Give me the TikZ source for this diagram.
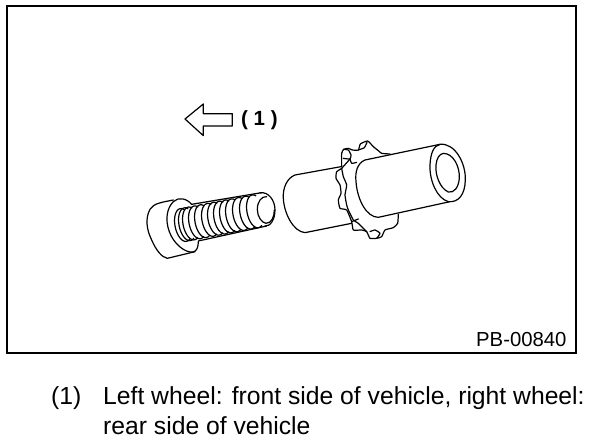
\documentclass[tikz,border=0pt]{standalone}
\usepackage{fontspec}
\setmainfont{Liberation Sans}
\tikzset{
  ink/.style={line width=1.2pt,line join=round,line cap=round,black},
  frame/.style={line width=2pt,black},
  lbl/.style={inner sep=0pt,anchor=base west},
  small/.style={lbl,font=\fontsize{20.3}{24}\selectfont},
  big/.style={lbl,font=\fontsize{24.7}{28}\selectfont},
  zoomA/.style={shift={(130,170)},x=0.3333pt,y=-0.3333pt},
  zoomB/.style={shift={(270,130)},x=0.3333pt,y=-0.3333pt},
  zoomC/.style={shift={(170,95)},x=0.3333pt,y=-0.3333pt},
  zoomG/.style={shift={(325,135)},x=0.3333pt,y=-0.3333pt}
}
\begin{document}
\begin{tikzpicture}[x=1pt,y=-1pt]
\useasboundingbox (0,0) rectangle (608,444);
\fill[white] (0,0) rectangle (608,444);
\draw[frame] (7,6) rectangle (576,353);
% arrow
\begin{scope}[zoomC]
\draw[ink] (187,56) -- (100,56) -- (100,27) -- (45,72) -- (100,122) -- (100,93) -- (187,93) -- cycle;
\end{scope}
\node[lbl,font=\fontsize{20.5}{24}\selectfont\bfseries] (arrowlabel) at (241,125) {( 1 )};
% bolt
\begin{scope}[zoomA]
\draw[ink] (130,90) .. controls (90,98) and (72,100) .. (60,118) .. controls (45,145) and (50,180) .. (65,210) .. controls (78,240) and (95,262) .. (112,265) -- (195,245);
\draw[ink] (185,103) .. controls (170,85) and (145,80) .. (130,95) .. controls (110,115) and (105,150) .. (118,185) .. controls (130,220) and (165,250) .. (190,246) .. controls (200,243) and (205,232) .. (205,215);
\draw[ink] (185,103) -- (395,68);
\draw[ink] (205,213) -- (410,168);
\foreach \l in {135,147,159,177,195,216,234,252,270,288,309,330,351}{
  \draw[ink,shift={(\l+25,{165-(\l-135)*0.19})},rotate=11]
    plot[domain=65:295,samples=30,smooth] ({25*cos(\x)},{50*sin(\x)});
}
\draw[ink] (390,68) .. controls (415,65) and (435,90) .. (435,120) .. controls (435,150) and (420,170) .. (405,168);
\draw[ink] (410,80) .. controls (395,78) and (382,95) .. (382,118) .. controls (382,140) and (395,158) .. (408,160) .. controls (425,160) and (433,140) .. (433,120);
\end{scope}
% sleeve
\begin{scope}[zoomB]
\draw[ink] (213,110) -- (75,135) .. controls (50,145) and (38,175) .. (40,205) .. controls (42,250) and (70,305) .. (105,308) -- (245,280);
\draw[ink] (510,43) -- (285,90) .. controls (262,100) and (255,125) .. (258,155) .. controls (262,210) and (290,262) .. (325,262) -- (540,215);
\draw[ink] (510,43) .. controls (555,38) and (588,100) .. (586,150) .. controls (585,195) and (565,218) .. (535,215) .. controls (500,205) and (478,150) .. (480,105) .. controls (482,70) and (490,48) .. (510,43) -- cycle;
\draw[ink] (520,70) .. controls (550,70) and (570,110) .. (568,145) .. controls (566,172) and (552,190) .. (535,186) .. controls (510,175) and (495,135) .. (498,105) .. controls (500,85) and (508,72) .. (520,70) -- cycle;
\end{scope}
% gear
\begin{scope}[zoomG]
\draw[ink] plot[smooth,tension=0.3] coordinates {(50,95) (50,55) (56,43) (70,40) (82,45) (100,45) (106,27) (128,18) (145,35) (160,47) (170,55) (195,57)};
\draw[ink] plot[smooth,tension=0.3] coordinates {(75,72) (50,100) (35,110) (33,130) (45,150) (48,175) (40,195) (45,220) (65,225) (80,260) (85,285) (110,285) (125,290) (135,310) (155,310) (170,305) (180,285) (205,278) (218,265) (220,238)};
\draw[ink] plot[smooth,tension=0.3] coordinates {(56,43) (70,45) (78,60) (75,72) (55,70)};
\draw[ink] plot[smooth,tension=0.3] coordinates {(75,72) (80,85) (95,82)};
\draw[ink] plot[smooth,tension=0.3] coordinates {(50,100) (55,125) (65,150) (60,180) (65,210) (70,225) (85,255) (100,265) (125,290)};
\draw[ink] plot[smooth,tension=0.3] coordinates {(100,45) (118,38) (126,22)};
\draw[ink] plot[smooth,tension=0.3] coordinates {(135,290) (150,285) (165,295) (155,310)};
\draw[ink] (80,260) -- (100,252);
\end{scope}
% texts
\node[small] (code) at (476,346) {PB-00840};
\node[big] (num) at (51,404) {(1)};
\node[big] (line1) at (103,404) {Left wheel: front side of vehicle, right wheel:};
\node[big] (line2) at (103,434) {rear side of vehicle};
\end{tikzpicture}
\end{document}
